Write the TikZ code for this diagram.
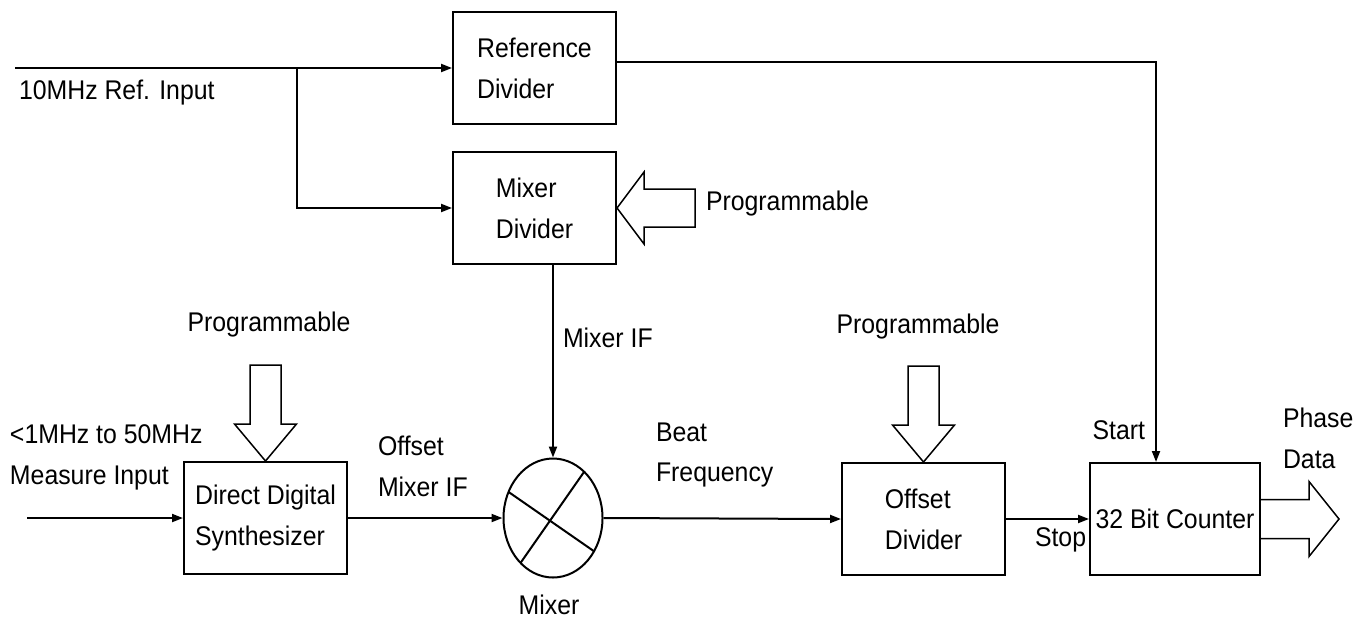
\documentclass[tikz,border=0pt]{standalone}
\usepackage{fontspec}
\setmainfont{Liberation Sans}[FakeStretch=0.92]
\usetikzlibrary{arrows.meta,shapes.geometric,calc}

\begin{document}
\begin{tikzpicture}[x=0.5pt,y=-0.5pt,line width=1pt,
    font=\fontsize{13.5}{20.5}\selectfont,
    >={Triangle[length=5.5pt,width=4pt]},
    blk/.style={draw,align=left,minimum width=81.5pt,minimum height=56pt,inner sep=0pt},
    lbl/.style={inner sep=0pt},
    hollow/.style={line width=0.75pt}]
    \useasboundingbox (0,0) rectangle (1368,622);
    % blocks
    \node[blk](ref) at (534.5,68) {Reference\\Divider};
    \node[blk](mixdiv) at (534.5,208) {Mixer\\Divider};
    \node[blk](dds) at (265.5,518) {Direct Digital\\Synthesizer};
    \node[draw,ellipse,minimum width=49.5pt,minimum height=59.5pt,inner sep=0pt](mix) at (553,518) {};
    \node[blk](offdiv) at (923.5,519) {Offset\\Divider};
    \node[blk,minimum width=85pt](cnt) at (1175,519) {32 Bit Counter};
    \coordinate(refin) at (15,68);
    \coordinate(split) at (297,68);
    \coordinate(measin) at (27,518);
    % signal lines
    \draw (refin) -- (split);
    \draw[->] (split) -- (ref.west);
    \draw[->] (split) |- (mixdiv.west);
    \draw[->] ([yshift=3pt]ref.east) -| ([xshift=-9.5pt]cnt.north);
    \draw[->] (mix.north |- mixdiv.south) -- (mix.north);
    \draw[->] (measin) -- (dds.west);
    \draw[->] (dds.east) -- (mix.west);
    \draw[->] (mix.east) -- (offdiv.west);
    \draw[->] (offdiv.east) -- (cnt.west);
    % mixer cross
    \draw ([shift={(154:24.75pt and 29.75pt)}]mix.center) -- ([shift={(-34:24.75pt and 29.75pt)}]mix.center);
    \draw ([shift={(51:24.75pt and 29.75pt)}]mix.center) -- ([shift={(229:24.75pt and 29.75pt)}]mix.center);
    % hollow arrows
    \draw[hollow] (mixdiv.east) -- ++(27,-36) -- ++(0,17) -- ++(51,0) -- ++(0,38) -- ++(-51,0) -- ++(0,17) -- cycle;
    \draw[hollow] (dds.north) -- ++(-31,-37) -- ++(15.5,0) -- ++(0,-59) -- ++(31,0) -- ++(0,59) -- ++(15.5,0) -- cycle;
    \draw[hollow] (offdiv.north) -- ++(-31,-37) -- ++(15.5,0) -- ++(0,-59) -- ++(31,0) -- ++(0,59) -- ++(15.5,0) -- cycle;
    \draw[hollow] (cnt.east) ++(0,-19.5) -- ++(48,0) -- ++(0,-18) -- ++(30,37.5) -- ++(-30,37.5) -- ++(0,-18) -- ++(-48,0);
    % labels
    \node[lbl,anchor=west](refinlbl) at (18,93) {10MHz Ref. Input};
    \node[lbl,anchor=west](prog1) at (705,204) {Programmable};
    \node[lbl](prog2) at (269,325) {Programmable};
    \node[lbl](prog3) at (918,327) {Programmable};
    \node[lbl,anchor=west](mixif) at (562,338) {Mixer IF};
    \node[lbl,anchor=west,align=left](measlbl) at (9,457) {<1MHz to 50MHz\\Measure Input};
    \node[lbl,anchor=west,align=left](offif) at (377,466) {Offset\\Mixer IF};
    \node[lbl](mixlbl) at (549,605) {Mixer};
    \node[lbl,anchor=west,align=left](beat) at (655,455) {Beat\\Frequency};
    \node[lbl,anchor=east](start) at (1146,430) {Start};
    \node[lbl,anchor=west](stop) at (1034,540) {Stop};
    \node[lbl,anchor=west,align=left](phase) at (1282,438) {Phase\\Data};
\end{tikzpicture}
\end{document}
